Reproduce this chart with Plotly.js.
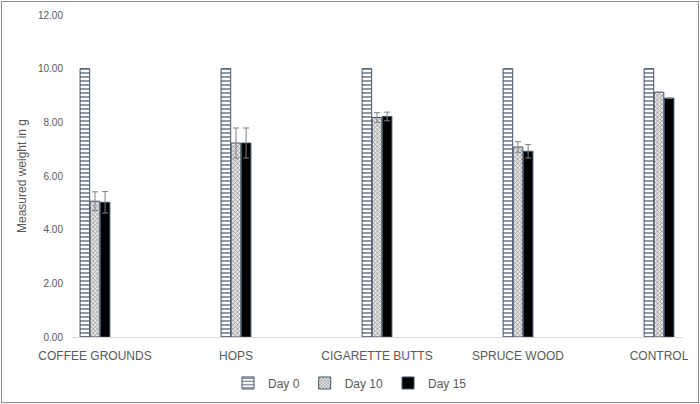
<!DOCTYPE html>
<html>
<head>
<meta charset="utf-8">
<script src="https://cdn.plot.ly/plotly-3.0.1.min.js"></script>
<style>
  html, body { margin: 0; padding: 0; background: #fff; }
  #wrap { position: relative; width: 700px; height: 404px; }
  #chart { position: absolute; left: 0; top: 0; width: 700px; height: 404px; }
  #frame { position: absolute; left: 1px; top: 1px; width: 696px; height: 400px;
           border: 1px solid #8c8c8c; pointer-events: none; }
</style>
</head>
<body>
<div id="wrap">
  <div id="chart"></div>
  <div id="frame"></div>
</div>
<script>
var categories = ['COFFEE GROUNDS', 'HOPS', 'CIGARETTE BUTTS', 'SPRUCE WOOD', 'CONTROL'];

var day0 = [10, 10, 10, 10, 10];
var day10 = [5.06, 7.23, 8.18, 7.08, 9.12];
var day15 = [5.02, 7.23, 8.22, 6.92, 8.9];

var day10Err = [0.35, 0.56, 0.18, 0.2, 0];
var day15Err = [0.4, 0.56, 0.16, 0.25, 0];

var yTicks = [0, 2, 4, 6, 8, 10, 12];

var edge = {color: '#44546a', width: 1};
var errStyle = {color: '#7f7f7f', thickness: 1, width: 3};

var trace1 = {
    x: categories,
    y: day0,
    name: 'Day 0',
    type: 'bar',
    marker: {
        color: '#ffffff',
        line: edge,
        pattern: {shape: '-', fgcolor: '#44546a', bgcolor: '#ffffff', size: 4, solidity: 0.3}
    }
};

var trace2 = {
    x: categories,
    y: day10,
    name: 'Day 10',
    type: 'bar',
    error_y: {type: 'data', array: day10Err, visible: true, color: errStyle.color,
              thickness: errStyle.thickness, width: errStyle.width},
    marker: {
        color: '#d9d9d9',
        line: edge,
        pattern: {shape: 'x', fgcolor: '#8c8c8c', bgcolor: '#e7e7e7', size: 3, solidity: 0.4}
    }
};

var trace3 = {
    x: categories,
    y: day15,
    name: 'Day 15',
    type: 'bar',
    error_y: {type: 'data', array: day15Err, visible: true, color: errStyle.color,
              thickness: errStyle.thickness, width: errStyle.width},
    marker: {
        color: '#000000',
        line: edge
    }
};

var data = [trace1, trace2, trace3];

var layout = {
    width: 700,
    height: 404,
    margin: {l: 72, r: 17, t: 15, b: 67, autoexpand: false},
    paper_bgcolor: '#ffffff',
    plot_bgcolor: '#ffffff',
    font: {family: 'Liberation Sans, Arial, sans-serif', size: 12, color: '#595959'},
    barmode: 'group',
    bargap: 0.785,
    bargroupgap: 0.05,
    showlegend: true,
    legend: {
        orientation: 'h',
        x: 0.5,
        xanchor: 'center',
        xref: 'container',
        yref: 'container',
        y: 0.052,
        yanchor: 'middle',
        font: {size: 12, color: '#595959'},
        itemwidth: 30,
        traceorder: 'normal'
    },
    xaxis: {
        type: 'category',
        range: [-0.163, 4.17],
        showgrid: false,
        showline: false,
        ticks: '',
        tickfont: {size: 12, color: '#595959'},
        ticklabelstandoff: 10
    },
    yaxis: {
        range: [0, 12],
        tickvals: yTicks,
        tickformat: '.2f',
        showgrid: false,
        zeroline: true,
        zerolinecolor: '#d9d9d9',
        zerolinewidth: 1,
        showline: false,
        ticks: '',
        tickfont: {size: 10, color: '#595959'},
        ticklabelstandoff: 8,
        title: {text: 'Measured weight in g', font: {size: 12, color: '#595959'}, standoff: 8}
    }
};

Plotly.newPlot('chart', data, layout, {displayModeBar: false});
</script>
</body>
</html>
